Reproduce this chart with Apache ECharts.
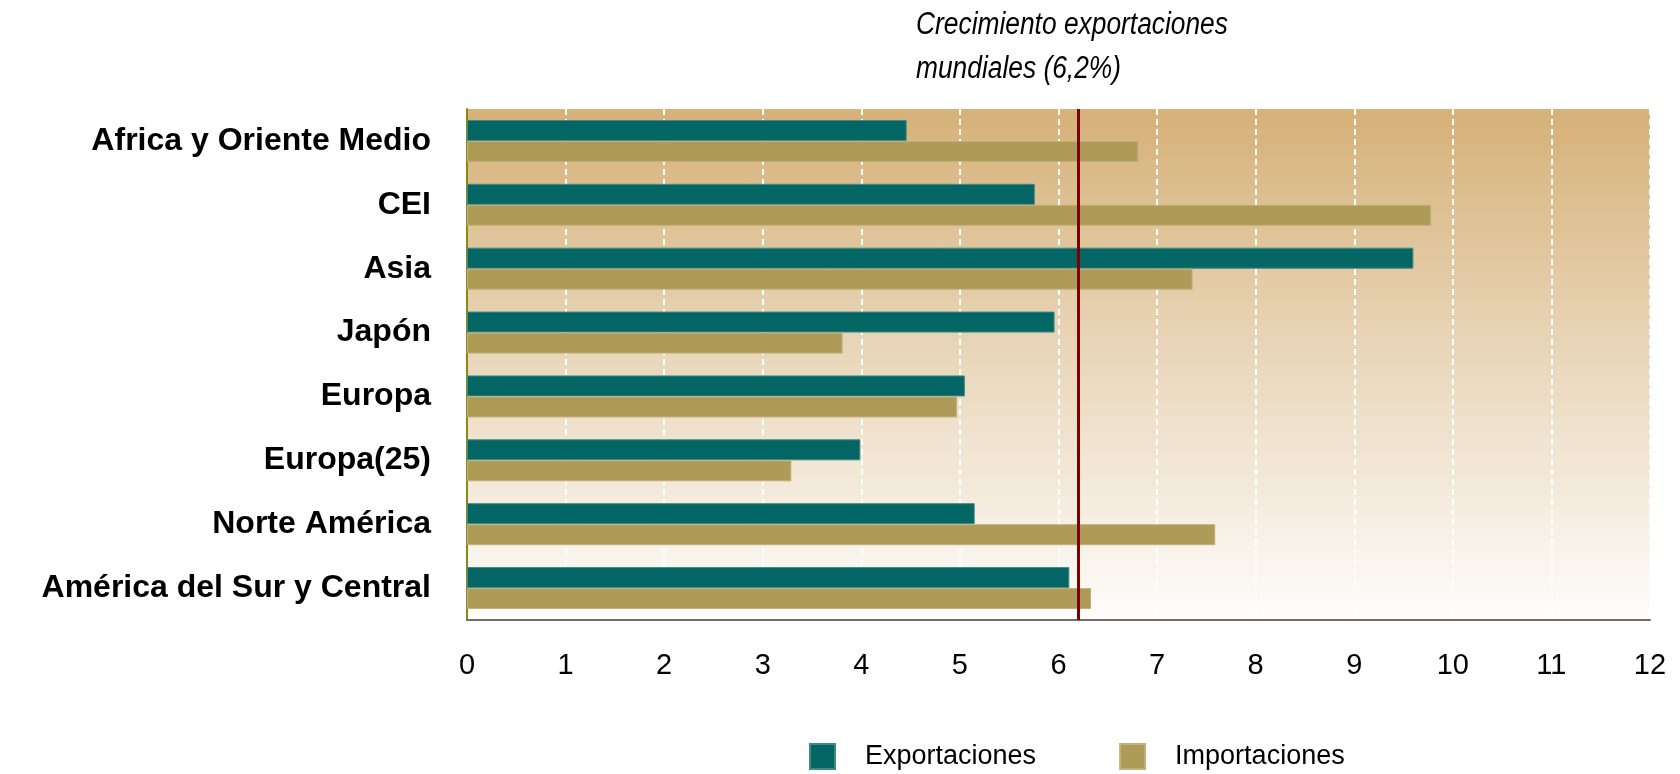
<!DOCTYPE html>
<html>
<head>
<meta charset="utf-8">
<script src="https://cdn.jsdelivr.net/npm/echarts@6/dist/echarts.min.js"></script>
<style>
  html, body { margin: 0; padding: 0; background: #fff; }
  #js-bar { width: 1680px; height: 774px; }
</style>
</head>
<body>
<div id="js-bar"></div>
<script>
var regions = ['Africa y Oriente Medio', 'CEI', 'Asia', 'Japón', 'Europa', 'Europa(25)', 'Norte América', 'América del Sur y Central'];
var exportaciones = [4.46, 5.76, 9.60, 5.96, 5.05, 3.99, 5.15, 6.11];
var importaciones = [6.81, 9.78, 7.36, 3.81, 4.97, 3.29, 7.59, 6.33];
var mundial = 6.2;

var sans = "'Liberation Sans', Arial, sans-serif";

/*bar*/
var barChart = echarts.init(document.getElementById('js-bar'));
var barOption = {
    animation: false,
    // nota del crecimiento mundial, letra estrecha simulada con scaleX
    graphic: [{
        type: 'text',
        left: 916,
        top: 3,
        scaleX: 0.85,
        style: {
            text: 'Crecimiento exportaciones\nmundiales (6,2%)',
            font: 'italic 31px ' + sans,
            lineHeight: 44,
            fill: '#000'
        }
    }],
    legend: {
        data: ['Exportaciones', 'Importaciones'],
        left: 804,
        top: 738,
        icon: 'rect',
        itemWidth: 25,
        itemHeight: 25,
        itemGap: 83,
        textStyle: {
            fontFamily: sans,
            fontSize: 27,
            color: '#000',
            padding: [0, 0, 0, 25]
        }
    },
    grid: {
        left: 467,
        right: 30,
        top: 109,
        bottom: 154,
        show: true,
        borderWidth: 0,
        backgroundColor: new echarts.graphic.LinearGradient(0, 0, 0, 1, [
            { offset: 0, color: '#D6B178' },
            { offset: 0.5, color: '#EAD8BD' },
            { offset: 1, color: '#FEFDFB' }
        ], false)
    },
    xAxis: {
        type: 'value',
        min: 0,
        max: 12,
        interval: 1,
        axisLine: { show: true, lineStyle: { color: '#6E6E6E', width: 2 } },
        axisTick: { show: false },
        axisLabel: {
            margin: 31,
            fontFamily: sans,
            fontSize: 29,
            color: '#000'
        },
        splitLine: {
            show: true,
            lineStyle: { color: '#FFFFFF', width: 2, type: [6, 4] }
        }
    },
    yAxis: {
        type: 'category',
        data: regions,
        inverse: true,
        axisLine: { show: true, lineStyle: { color: '#8A8A10', width: 2 } },
        axisTick: { show: false },
        axisLabel: {
            margin: 36,
            fontFamily: sans,
            fontWeight: 'bold',
            fontSize: 32,
            color: '#000'
        }
    },
    series: [{
        name: 'Exportaciones',
        type: 'bar',
        data: exportaciones,
        barWidth: 21,
        barGap: '0%',
        color: ['#036664'],
        itemStyle: { borderColor: '#3F8A84', borderWidth: 1 },
        markLine: {
            silent: true,
            symbol: 'none',
            label: { show: false },
            lineStyle: { color: '#7F0000', width: 3, type: 'solid' },
            data: [{ xAxis: mundial }]
        }
    }, {
        name: 'Importaciones',
        type: 'bar',
        data: importaciones,
        barWidth: 21,
        color: ['#AE9B58'],
        itemStyle: { borderColor: '#C2B07A', borderWidth: 1 }
    }]
};
barChart.setOption(barOption);
</script>
</body>
</html>
